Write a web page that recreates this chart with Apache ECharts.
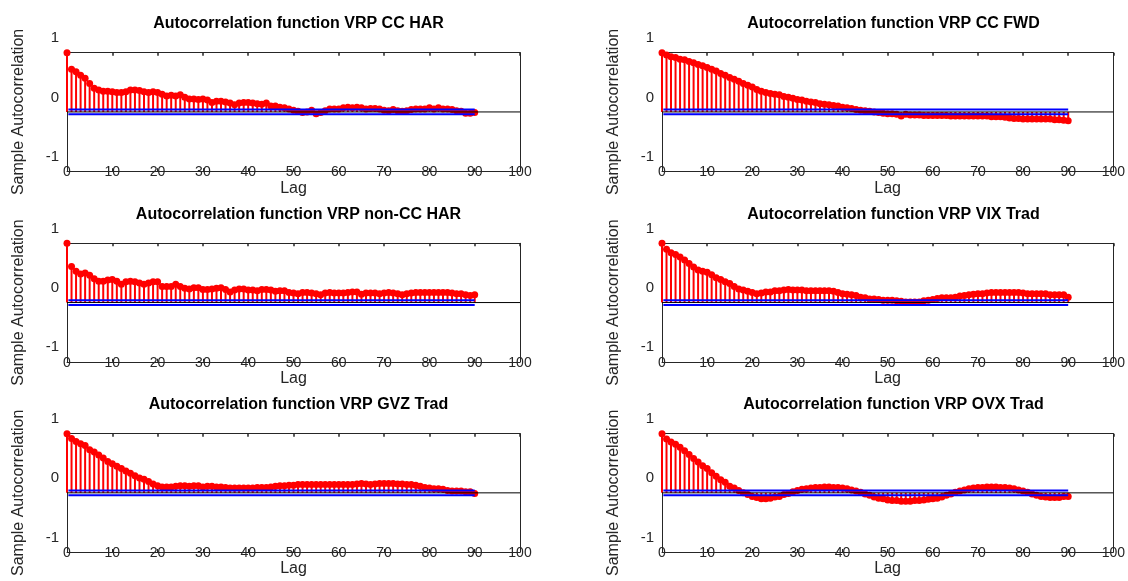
<!DOCTYPE html>
<html>
<head>
<meta charset="utf-8">
<script src="https://cdn.jsdelivr.net/npm/echarts@6/dist/echarts.min.js"></script>
<style>
html,body{margin:0;padding:0;background:#fff}
#main{width:1128px;height:581px}
</style>
</head>
<body>
<div id="main"></div>
<script>
// titles of the six panels (row by row)
var titles = ['Autocorrelation function VRP CC HAR', 'Autocorrelation function VRP CC FWD',
              'Autocorrelation function VRP non-CC HAR', 'Autocorrelation function VRP VIX Trad',
              'Autocorrelation function VRP GVZ Trad', 'Autocorrelation function VRP OVX Trad'];

// sample autocorrelation, lag 0..90
var acfCCHAR = [1.00,0.72,0.68,0.62,0.57,0.48,0.40,0.37,0.35,0.35,0.34,0.33,0.33,0.34,0.37,0.37,0.36,0.34,0.33,0.34,
  0.33,0.30,0.27,0.28,0.27,0.29,0.25,0.22,0.22,0.21,0.22,0.20,0.16,0.18,0.18,0.17,0.15,0.12,0.15,0.16,
  0.16,0.15,0.14,0.13,0.15,0.10,0.10,0.08,0.07,0.05,0.03,0.01,-0.01,0.00,0.03,-0.03,-0.01,0.02,0.05,0.05,
  0.05,0.07,0.08,0.07,0.08,0.07,0.05,0.06,0.06,0.05,0.03,0.02,0.04,0.02,0.01,0.02,0.04,0.05,0.05,0.05,
  0.07,0.05,0.07,0.05,0.05,0.04,0.02,0.01,-0.02,-0.02,-0.01];
var acfCCFWD = [1.00,0.96,0.93,0.92,0.89,0.88,0.85,0.83,0.80,0.78,0.75,0.72,0.69,0.65,0.62,0.58,0.55,0.52,0.48,0.45,
  0.42,0.38,0.35,0.33,0.31,0.30,0.29,0.26,0.25,0.23,0.21,0.20,0.18,0.17,0.16,0.14,0.13,0.12,0.11,0.10,
  0.08,0.07,0.06,0.04,0.03,0.02,0.01,0.00,-0.01,-0.02,-0.03,-0.03,-0.04,-0.07,-0.04,-0.05,-0.05,-0.05,-0.06,-0.06,
  -0.06,-0.06,-0.06,-0.06,-0.07,-0.07,-0.07,-0.07,-0.07,-0.07,-0.07,-0.07,-0.07,-0.08,-0.08,-0.08,-0.09,-0.10,-0.11,-0.11,
  -0.12,-0.12,-0.12,-0.12,-0.12,-0.12,-0.12,-0.13,-0.13,-0.14,-0.15];
var acfNonCCHAR = [1.00,0.61,0.53,0.48,0.50,0.46,0.40,0.36,0.36,0.38,0.39,0.36,0.31,0.35,0.36,0.35,0.33,0.31,0.33,0.35,
  0.35,0.27,0.27,0.27,0.31,0.27,0.24,0.23,0.25,0.25,0.22,0.22,0.23,0.24,0.25,0.22,0.18,0.21,0.23,0.23,
  0.21,0.21,0.20,0.22,0.22,0.21,0.19,0.20,0.20,0.17,0.16,0.15,0.17,0.17,0.16,0.15,0.13,0.16,0.17,0.16,
  0.16,0.16,0.17,0.18,0.18,0.14,0.16,0.16,0.16,0.15,0.16,0.17,0.16,0.15,0.13,0.15,0.16,0.17,0.17,0.17,
  0.17,0.17,0.17,0.17,0.17,0.16,0.15,0.15,0.13,0.12,0.13];
var acfVIX = [1.00,0.90,0.84,0.81,0.77,0.72,0.66,0.60,0.55,0.53,0.51,0.47,0.42,0.39,0.35,0.32,0.27,0.23,0.21,0.19,
  0.17,0.15,0.16,0.18,0.18,0.20,0.20,0.21,0.22,0.21,0.21,0.21,0.20,0.20,0.20,0.20,0.20,0.20,0.19,0.17,
  0.15,0.14,0.13,0.12,0.09,0.08,0.06,0.06,0.05,0.04,0.04,0.04,0.03,0.02,0.01,0.01,0.01,0.01,0.03,0.04,
  0.05,0.07,0.08,0.08,0.08,0.09,0.11,0.12,0.13,0.14,0.15,0.15,0.16,0.17,0.17,0.17,0.17,0.17,0.17,0.17,
  0.16,0.15,0.15,0.15,0.15,0.15,0.13,0.13,0.13,0.13,0.09];
var acfGVZ = [1.00,0.92,0.87,0.83,0.80,0.73,0.69,0.64,0.59,0.53,0.49,0.45,0.41,0.37,0.33,0.29,0.25,0.23,0.19,0.15,
  0.12,0.10,0.10,0.10,0.11,0.12,0.12,0.11,0.12,0.12,0.10,0.11,0.11,0.10,0.10,0.09,0.08,0.08,0.08,0.08,
  0.08,0.08,0.09,0.09,0.09,0.10,0.11,0.12,0.12,0.13,0.13,0.14,0.14,0.14,0.14,0.14,0.14,0.14,0.14,0.14,
  0.14,0.14,0.14,0.14,0.15,0.16,0.15,0.14,0.15,0.16,0.16,0.16,0.16,0.15,0.15,0.14,0.14,0.13,0.11,0.09,
  0.08,0.07,0.07,0.06,0.04,0.03,0.03,0.03,0.02,0.02,-0.01];
var acfOVX = [1.00,0.91,0.86,0.82,0.77,0.71,0.65,0.58,0.52,0.46,0.41,0.34,0.28,0.22,0.18,0.11,0.08,0.04,0.00,-0.03,
  -0.06,-0.08,-0.10,-0.10,-0.09,-0.07,-0.06,-0.03,-0.01,0.02,0.04,0.06,0.07,0.08,0.09,0.09,0.10,0.10,0.09,0.09,
  0.08,0.07,0.05,0.03,0.01,-0.02,-0.04,-0.07,-0.09,-0.10,-0.12,-0.13,-0.13,-0.14,-0.14,-0.14,-0.13,-0.13,-0.12,-0.11,
  -0.10,-0.09,-0.07,-0.04,-0.02,0.01,0.03,0.05,0.07,0.08,0.09,0.09,0.10,0.10,0.10,0.09,0.09,0.08,0.07,0.05,
  0.03,0.01,-0.02,-0.04,-0.06,-0.07,-0.08,-0.08,-0.08,-0.06,-0.06];

var panels = [acfCCHAR, acfCCFWD, acfNonCCHAR, acfVIX, acfGVZ, acfOVX];
var confBound = 0.04;   // approx. 95% bounds
var lagMax = 90;

var font = "'Liberation Sans', Arial, sans-serif";
var gridLeft = [67, 662];
var gridTop = [52.7, 243.3, 433.7];
var gridW = 453, gridH = 118.5;

var grids = [], xAxes = [], yAxes = [], series = [], tts = [];

for (var p = 0; p < 6; p++) {
  var col = p % 2, row = Math.floor(p / 2);
  grids.push({ left: gridLeft[col], top: gridTop[row], width: gridW, height: gridH });
  tts.push({
    text: titles[p], left: gridLeft[col] + gridW / 2, top: gridTop[row] - 42, textAlign: 'center',
    textStyle: { fontFamily: font, fontSize: 16, fontWeight: 'bold', color: '#000' }
  });
  var axLine = { show: true, onZero: false, lineStyle: { color: '#262626', width: 1 } };
  // bottom x axis
  xAxes.push({
    gridIndex: p, type: 'value', min: 0, max: 100, interval: 10, position: 'bottom',
    name: 'Lag', nameLocation: 'middle', nameGap: 9,
    nameTextStyle: { fontFamily: font, fontSize: 16, color: '#262626' },
    axisLine: axLine, axisTick: { inside: true, length: 3, lineStyle: { color: '#262626' } },
    axisLabel: { margin: 1, verticalAlign: 'middle', fontFamily: font, fontSize: 14, color: '#262626' },
    splitLine: { show: false }
  });
  // top x axis (box)
  xAxes.push({
    gridIndex: p, type: 'value', min: 0, max: 100, interval: 10, position: 'top',
    axisLine: axLine, axisTick: { inside: true, length: 3, lineStyle: { color: '#262626', width: 1.5 } },
    axisLabel: { show: false }, splitLine: { show: false }
  });
  yAxes.push({
    gridIndex: p, type: 'value', min: -1, max: 1, interval: 1, position: 'left',
    name: 'Sample Autocorrelation', nameLocation: 'middle', nameGap: 40,
    nameTextStyle: { fontFamily: font, fontSize: 16, color: '#262626' },
    axisLine: axLine, axisTick: { show: false },
    // labels sit about 15px above their ticks in the original figure
    axisLabel: {
      margin: 8, lineHeight: 29, fontFamily: font, fontSize: 15, color: '#262626',
      showMinLabel: true, showMaxLabel: true, hideOverlap: false,
      formatter: function (v) { return v + '\n '; }
    },
    splitLine: { show: false }
  });
  yAxes.push({
    gridIndex: p, type: 'value', min: -1, max: 1, interval: 1, position: 'right',
    axisLine: axLine, axisTick: { show: false }, axisLabel: { show: false }, splitLine: { show: false }
  });

  var pts = panels[p].map(function (v, i) { return [i, v]; });
  var xi = p * 2, yi = p * 2;
  series.push({
    type: 'bar', xAxisIndex: xi, yAxisIndex: yi, data: pts, barWidth: 2,
    itemStyle: { color: '#ff0000' }, silent: true, animation: false, z: 3
  });
  series.push({
    type: 'scatter', xAxisIndex: xi, yAxisIndex: yi, data: pts, symbolSize: 7,
    itemStyle: { color: '#ff0000', opacity: 1 }, silent: true, animation: false, z: 4
  });
  series.push({
    type: 'line', xAxisIndex: xi, yAxisIndex: yi, data: [[0, 0], [100, 0]], showSymbol: false,
    lineStyle: { color: '#000', width: 1 }, silent: true, animation: false, z: 5
  });
  [confBound, -confBound].forEach(function (b) {
    series.push({
      type: 'line', xAxisIndex: xi, yAxisIndex: yi, data: [[0.3, b], [lagMax, b]], showSymbol: false,
      lineStyle: { color: '#0000ff', width: 2 }, silent: true, animation: false, z: 6
    });
  });
}

var chart = echarts.init(document.getElementById('main'));
chart.setOption({
  backgroundColor: '#fff',
  animation: false,
  title: tts,
  grid: grids,
  xAxis: xAxes,
  yAxis: yAxes,
  series: series
});
</script>
</body>
</html>
